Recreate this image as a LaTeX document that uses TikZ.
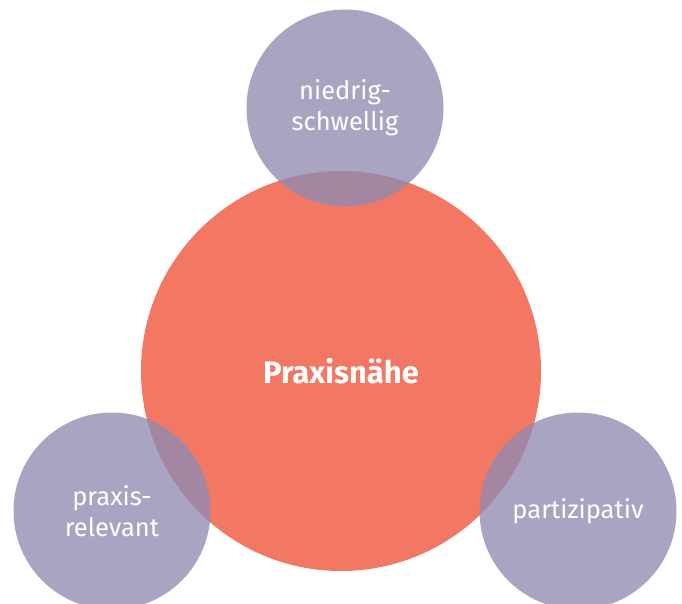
\documentclass[tikz,border=0pt]{standalone}
\usepackage{fontspec}
\setmainfont{Fira Sans}
\definecolor{coreRed}{HTML}{F27864}
\definecolor{aspectPurple}{HTML}{908AB1}
\begin{document}
\begin{tikzpicture}[
    x=1pt, y=-1pt,
    every node/.style={font=\fontsize{25.5}{31}\selectfont, text=white, align=center},
    core/.style={circle, fill=coreRed, minimum size=400pt, inner sep=0pt, font=\fontsize{31}{36}\selectfont\bfseries},
    aspect/.style={circle, fill=aspectPurple, fill opacity=0.78, text opacity=1, minimum size=197pt, inner sep=0pt}
]
% -------------------------
% Canvas
% -------------------------
    \useasboundingbox (0, 0) rectangle (682, 603);
    \clip (0, 0) rectangle (682, 603);

% -------------------------
% Centre
% -------------------------
    \node[core] (praxis) at (341, 371) {Praxisnähe};

% -------------------------
% Aspects (overlapping the centre)
% -------------------------
    \node[aspect] (schwelle) at (345, 108) {niedrig-\\schwellig};
    \node[aspect] (relevant) at (112, 511) {praxis-\\relevant};
    \node[aspect] (partizip) at (578, 511) {partizipativ};
\end{tikzpicture}
\end{document}
